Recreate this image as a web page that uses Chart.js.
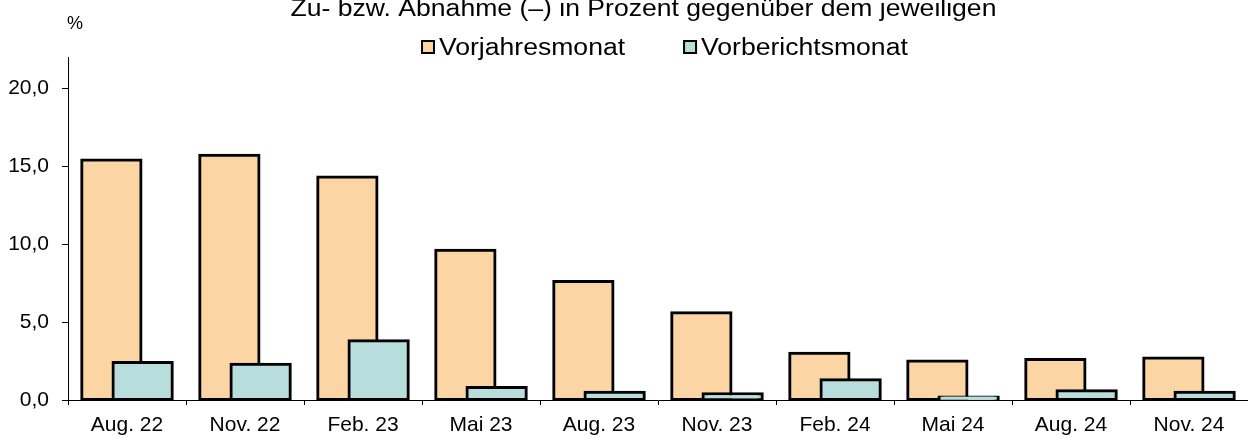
<!DOCTYPE html>
<html>
<head>
<meta charset="utf-8">
<script src="https://cdn.jsdelivr.net/npm/chart.js@4"></script>
<style>
  html, body { margin: 0; padding: 0; background: #fff; }
  #wrap { width: 1248px; height: 439px; position: relative; }
</style>
</head>
<body>
<div id="wrap"><canvas id="c"></canvas></div>
<script>
const categories = ['Aug. 22','Nov. 22','Feb. 23','Mai 23','Aug. 23','Nov. 23','Feb. 24','Mai 24','Aug. 24','Nov. 24'];
const vorjahresmonat = [15.4, 15.7, 14.3, 9.6, 7.6, 5.6, 3.0, 2.5, 2.6, 2.7];
const vorberichtsmonat = [2.4, 2.3, 3.8, 0.8, 0.5, 0.4, 1.3, 0.2, 0.6, 0.5];
const yTicks = [0, 5, 10, 15, 20];
const seriesLabels = ['Vorjahresmonat', 'Vorberichtsmonat'];
const titleText = 'Zu- bzw. Abnahme (–) in Prozent gegenüber dem jeweiligen';
const unitText = '%';

const FONT = '"Liberation Sans", Arial, sans-serif';
const ORANGE = '#FCD5A5';
const TEAL = '#B7DEDC';

// draw the second series on top of the first (overlapping bars)
const drawOrderPlugin = {
  id: 'drawOrder',
  beforeDatasetDraw(chart, args) {
    if (args.index === 1) return false;
  },
  afterDatasetsDraw(chart) {
    const meta = chart.getDatasetMeta(1);
    if (meta && meta.controller && !meta.hidden) {
      meta.controller.draw();
    }
  }
};

const headerPlugin = {
  id: 'header',
  afterDraw(chart) {
    const ctx = chart.ctx;
    const sx = 1.155;
    ctx.save();
    ctx.fillStyle = '#000';
    ctx.textBaseline = 'alphabetic';
    // title
    ctx.font = '23px ' + FONT;
    const tw = ctx.measureText(titleText).width * sx;
    const tcx = 643.5;
    ctx.save();
    ctx.translate(tcx - tw / 2, 16);
    ctx.scale(sx, 1);
    ctx.fillText(titleText, 0, 0);
    ctx.restore();
    // unit
    ctx.font = '18px ' + FONT;
    ctx.fillText(unitText, 67, 29);
    // legend
    ctx.font = '23px ' + FONT;
    let x = 421;
    chart.data.datasets.forEach((ds) => {
      ctx.fillStyle = ds.backgroundColor;
      ctx.fillRect(x + 1, 41, 12, 12);
      ctx.strokeStyle = '#000';
      ctx.lineWidth = 2;
      ctx.strokeRect(x + 1, 41, 12, 12);
      ctx.fillStyle = '#000';
      const w = ctx.measureText(ds.label).width * sx;
      ctx.save();
      ctx.translate(x + 18, 55);
      ctx.scale(sx, 1);
      ctx.fillText(ds.label, 0, 0);
      ctx.restore();
      x = x + 18 + w + 58;
    });
    ctx.restore();
  }
};

new Chart(document.getElementById('c'), {
  type: 'bar',
  data: {
    labels: categories,
    datasets: [
      { label: seriesLabels[0], data: vorjahresmonat, backgroundColor: ORANGE, borderColor: '#000', borderWidth: 3, borderSkipped: false, inflateAmount: 1.5 },
      { label: seriesLabels[1], data: vorberichtsmonat, backgroundColor: TEAL, borderColor: '#000', borderWidth: 3, borderSkipped: false, inflateAmount: 1.5 }
    ]
  },
  options: {
    responsive: true,
    maintainAspectRatio: false,
    animation: false,
    categoryPercentage: 0.53,
    barPercentage: 1.895,
    layout: { padding: { top: 57, left: 0, right: 0, bottom: 0 } },
    plugins: {
      legend: { display: false },
      title: { display: false },
      tooltip: { enabled: false }
    },
    scales: {
      x: {
        offset: true,
        grid: { display: true, drawOnChartArea: false, drawTicks: true, tickLength: 5, color: '#000', offset: true },
        border: { display: true, color: '#000', width: 1 },
        ticks: { color: '#000', font: { family: FONT, size: 21 }, padding: 8, autoSkip: false, maxRotation: 0, minRotation: 0 },
        afterFit(scale) { scale.height = 39; }
      },
      y: {
        min: 0,
        max: 22,
        grid: { display: true, drawOnChartArea: false, drawTicks: true, tickLength: 6, color: '#000' },
        border: { display: true, color: '#000', width: 1 },
        afterBuildTicks(scale) { scale.ticks = yTicks.map(v => ({ value: v })); },
        ticks: {
          color: '#000',
          font: { family: FONT, size: 21 },
          padding: 13,
          callback: (v) => Number(v).toFixed(1).replace('.', ',')
        },
        afterFit(scale) { scale.width = 68; }
      }
    }
  },
  plugins: [drawOrderPlugin, headerPlugin]
});
</script>
</body>
</html>
